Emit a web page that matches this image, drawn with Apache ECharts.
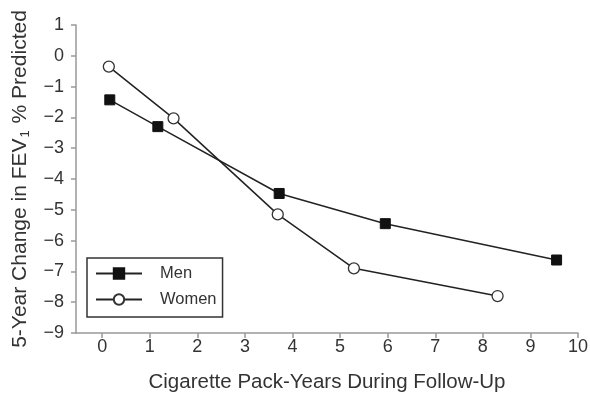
<!DOCTYPE html>
<html>
<head>
<meta charset="utf-8">
<script src="https://cdn.jsdelivr.net/npm/echarts@6/dist/echarts.min.js"></script>
<style>
html,body{margin:0;padding:0;background:#fff;}
#c{width:590px;height:393px;}
</style>
</head>
<body>
<div id="c"></div>
<script>
const menX = [0.16, 1.17, 3.72, 5.95, 9.55];
const menY = [-1.43, -2.3, -4.47, -5.45, -6.63];
const womenX = [0.14, 1.5, 3.69, 5.29, 8.31];
const womenY = [-0.35, -2.03, -5.15, -6.9, -7.8];
const xTicks = [0,1,2,3,4,5,6,7,8,9,10];

const toPairs = (xs, ys) => xs.map((x, i) => [x, ys[i]]);

const chart = echarts.init(document.getElementById('c'), null, {renderer: 'canvas'});
const FONT = 'Liberation Sans, Arial, sans-serif';
chart.setOption({
  animation: false,
  backgroundColor: '#fff',
  grid: {left: 76, right: 12, top: 25, bottom: 60, containLabel: false, outerBoundsMode: 'none'},
  xAxis: {
    type: 'value', min: -0.55, max: 10,
    name: 'Cigarette Pack-Years During Follow-Up',
    nameLocation: 'middle', nameGap: 39,
    nameTextStyle: {fontSize: 20.5, color: '#333', fontFamily: FONT},
    axisLine: {show: true, onZero: false, lineStyle: {color: '#999', width: 1.5}},
    axisTick: {show: true, length: 5, lineStyle: {color: '#999', width: 1.5}, customValues: xTicks},
    axisLabel: {fontSize: 18, color: '#333', fontFamily: FONT, margin: 5, customValues: xTicks, showMinLabel: true, showMaxLabel: true},
    splitLine: {show: false}
  },
  yAxis: {
    type: 'value', min: -9, max: 1, interval: 1,
    name: '{a|5-Year Change in FEV}{s|1}{a| % Predicted}',
    nameLocation: 'middle', nameGap: 44,
    nameTextStyle: {
      color: '#333', fontFamily: FONT,
      rich: {
        a: {fontSize: 21, lineHeight: 24, color: '#333', fontFamily: FONT},
        s: {fontSize: 13, lineHeight: 13, verticalAlign: 'bottom', color: '#333', fontFamily: FONT, padding: [0, 1, 0, 1]}
      }
    },
    axisLine: {show: true, onZero: false, lineStyle: {color: '#999', width: 1.5}},
    axisTick: {show: true, length: 5, lineStyle: {color: '#999', width: 1.5}},
    axisLabel: {fontSize: 18, color: '#333', fontFamily: FONT, margin: 12,
      formatter: v => (v < 0 ? '\u2212' + Math.abs(v) : String(v))},
    splitLine: {show: false}
  },
  legend: {
    orient: 'vertical', left: 87, top: 258,
    padding: [7, 6, 9, 8],
    itemWidth: 46, itemHeight: 13, itemGap: 9,
    borderColor: '#333', borderWidth: 1.5,
    textStyle: {fontSize: 16.5, color: '#333', fontFamily: FONT, padding: [0, 0, 0, 13]},
    data: ['Men', 'Women']
  },
  series: [
    {
      name: 'Men', type: 'line', data: toPairs(menX, menY),
      symbol: 'rect', symbolSize: 10,
      lineStyle: {color: '#222', width: 1.5},
      itemStyle: {color: '#111', borderColor: '#111', borderWidth: 1}
    },
    {
      name: 'Women', type: 'line', data: toPairs(womenX, womenY),
      symbol: 'circle', symbolSize: 11,
      lineStyle: {color: '#222', width: 1.5},
      itemStyle: {color: '#fff', borderColor: '#333', borderWidth: 1.3}
    }
  ]
});
</script>
</body>
</html>
